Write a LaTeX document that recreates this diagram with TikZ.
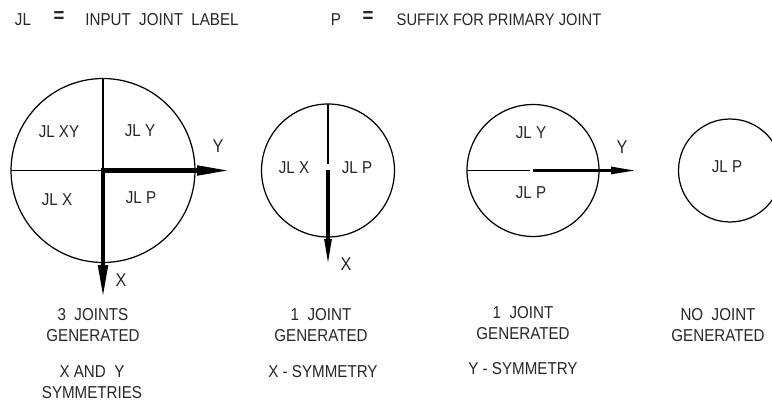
\documentclass[tikz,border=0pt]{standalone}
\usepackage{fontspec}
\setmainfont[FakeStretch=0.88]{Liberation Sans}
\usetikzlibrary{arrows.meta, calc}
\tikzset{
  joint/.style = {draw, circle, line width=0.7pt, inner sep=0pt, outer sep=0pt},
  thin line/.style = {line width=0.7pt},
  axis big/.style = {line width=2.7pt, -{Triangle[length=7mm, width=1.8mm]}},
  axis small/.style = {line width=2.2pt, -{Triangle[length=5.8mm, width=1.3mm]}},
  lbl/.style = {font=\fontsize{9.8}{11.8}\selectfont, align=center, inner sep=0pt, text=black!85},
  leg/.style = {font=\fontsize{9.5}{11.8}\selectfont, inner sep=0pt, text=black!85},
  axlbl/.style = {font=\fontsize{10.5}{12}\selectfont, inner sep=0pt, text=black!85},
  eqs/.style = {font=\bfseries\fontsize{12}{12}\selectfont, inner sep=0pt, text=black!85}
}

\begin{document}
\begin{tikzpicture}[x=0.02cm, y=-0.02cm]
  \path[use as bounding box, clip] (0,0) rectangle (772,402);

  % ── Legend ────────────────────────────────────────────────────────────────
  \node[lbl] (LegJL)   at (23,20)  {JL};
  \node[eqs] (LegEqA)  at (59,17)  {=};
  \node[lbl] (LegJLt)  at (162,20) {INPUT\ \ JOINT\ \ LABEL};
  \node[lbl] (LegP)    at (336,20) {P};
  \node[eqs] (LegEqB)  at (368,17) {=};
  \node[leg] (LegPt)   at (499,20) {SUFFIX FOR PRIMARY JOINT};

  % ── Circles ───────────────────────────────────────────────────────────────
  \node[joint, minimum size=3.68cm] (Cxy)   at (103,170.5) {};
  \node[joint, minimum size=2.66cm] (Cx)    at (328,170.5) {};
  \node[joint, minimum size=2.64cm] (Cy)    at (533,170.5) {};
  \node[joint, minimum size=2.06cm] (Cnone) at (730,170.5) {};

  % ── Axis ends ─────────────────────────────────────────────────────────────
  \coordinate (CxyY) at (232,170.5);
  \coordinate (CxyX) at (103,300);
  \coordinate (CxX)  at (328,268);
  \coordinate (CyY)  at (640,170.5);

  % X and Y symmetries
  \draw[thin line] (Cxy.west) -- (Cxy.center);
  \draw[thin line] (Cxy.north) -- (Cxy.center);
  \draw[axis big] (Cxy.center) -- (CxyY);
  \draw[axis big] ($(Cxy.center)+(0,-2)$) -- (CxyX);

  % X symmetry
  \draw[thin line] (Cx.north) -- ($(Cx.center)+(0,-6)$);
  \draw[axis small] (Cx.center) -- (CxX);

  % Y symmetry
  \draw[thin line] (Cy.west) -- ($(Cy.center)+(-3,0)$);
  \draw[axis small] (Cy.center) -- (CyY);

  % ── Labels in the circles ─────────────────────────────────────────────────
  \node[lbl] (XyXY) at (59,132)  {JL XY};
  \node[lbl] (XyY)  at (140,131) {JL Y};
  \node[lbl] (XyX)  at (57,200)  {JL X};
  \node[lbl] (XyP)  at (141,198) {JL P};
  \node[axlbl] (XyAy) at (218,146) {Y};
  \node[axlbl] (XyAx) at (121,280) {X};

  \node[lbl] (XX)   at (294,168) {JL X};
  \node[lbl] (XP)   at (357,168) {JL P};
  \node[axlbl] (XAx)  at (346,264) {X};

  \node[lbl] (YY)   at (531,133) {JL Y};
  \node[lbl] (YP)   at (531,193) {JL P};
  \node[axlbl] (YAy)  at (622,147) {Y};

  \node[lbl] (NoP)  at (727,167) {JL P};

  % ── Captions ──────────────────────────────────────────────────────────────
  \node[lbl] (CapXy)  at (93,325)  {3\ \ JOINTS\\ GENERATED};
  \node[lbl] (SymXy)  at (92,382)  {X AND\ \ Y\\ SYMMETRIES};
  \node[lbl] (CapX)   at (321,325) {1\ \ JOINT\\ GENERATED};
  \node[lbl] (SymX)   at (323,372) {X - SYMMETRY};
  \node[lbl] (CapY)   at (523,323) {1\ \ JOINT\\ GENERATED};
  \node[lbl] (SymY)   at (523,369) {Y - SYMMETRY};
  \node[lbl] (CapNo)  at (718,325) {NO\ \ JOINT\\ GENERATED};

\end{tikzpicture}
\end{document}
